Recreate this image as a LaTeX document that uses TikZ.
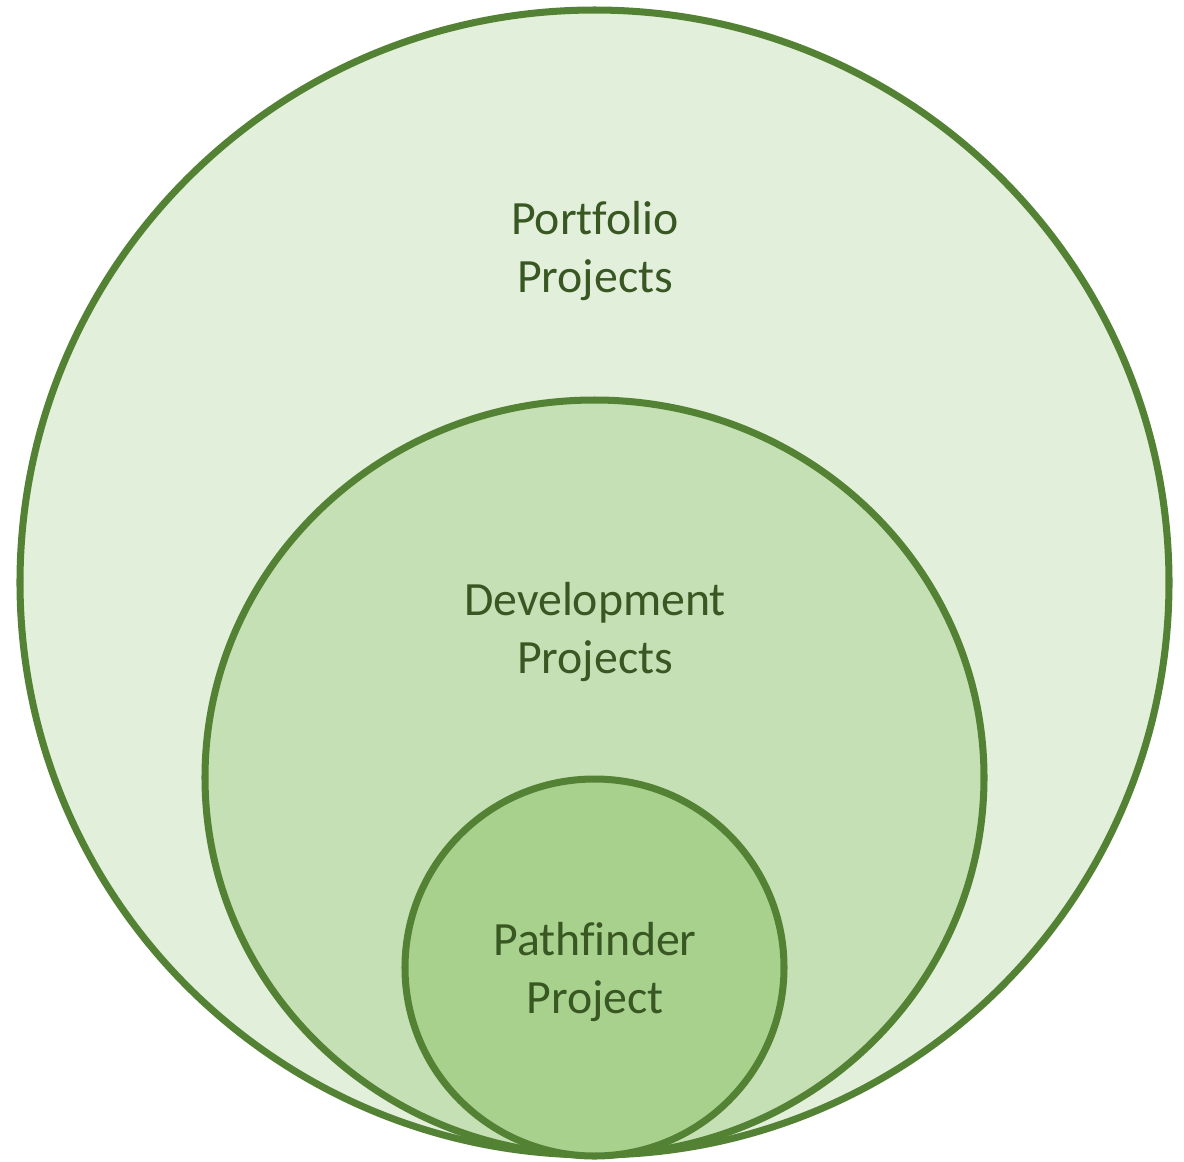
\documentclass[tikz,border=0pt]{standalone}
\usepackage{fontspec}
\setmainfont[Ligatures=NoCommon]{Carlito}
\usepackage{tikz}

\definecolor{ringline}{HTML}{548235}
\definecolor{portfoliofill}{HTML}{E2EFDA}
\definecolor{developfill}{HTML}{C5E0B4}
\definecolor{pathfill}{HTML}{A9D18E}
\definecolor{labeltext}{HTML}{385723}

\tikzset{
  ring/.style={draw=ringline, line width=4pt},
  ringlabel/.style={text=labeltext, align=center, font=\fontsize{27.2}{33}\selectfont}
}

\begin{document}
\begin{tikzpicture}[x=0.02cm, y=-0.02cm]
            \useasboundingbox (0,0) rectangle (1184,1161);
            \draw[ring, fill=portfoliofill] (594.5,582.5) ellipse [x radius=574.5, y radius=572.5];
            \draw[ring, fill=developfill] (594.5,777.5) ellipse [x radius=389.5, y radius=377.5];
            \draw[ring, fill=pathfill] (594.5,967.5) ellipse [x radius=189.5, y radius=188.5];
            \node[ringlabel] (portfolio) at (595,251) {Portfolio\\Projects};
            \node[ringlabel] (development) at (595,632) {Development\\Projects};
            \node[ringlabel] (pathfinder) at (595,972) {Pathfinder\\Project};
        \end{tikzpicture}
\end{document}
